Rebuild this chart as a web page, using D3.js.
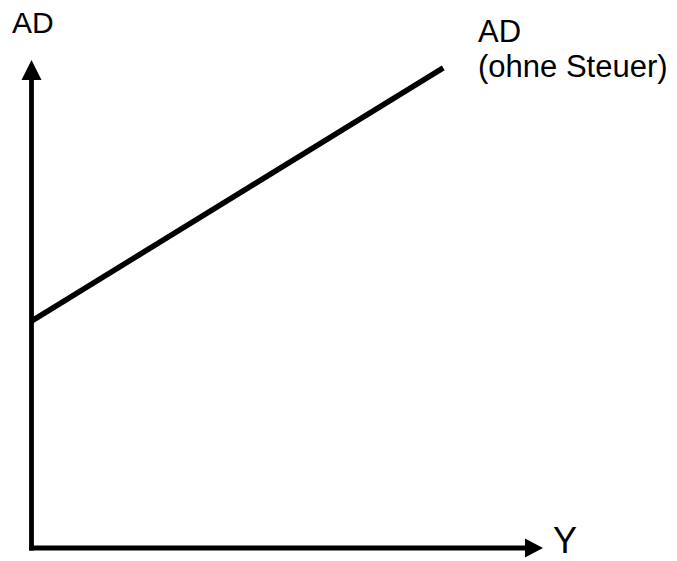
<!DOCTYPE html>
<html><head><meta charset="utf-8">
<script src="https://cdn.jsdelivr.net/npm/d3@7"></script>
<style>body{margin:0;background:#fff}svg{display:block}text{font-family:"Liberation Sans",Arial,sans-serif;fill:#000}</style>
</head><body>
<script>
const adX = [0, 80.5];
const adY = [46.5, 98.4];
const yAxisLabel = "AD";
const xAxisLabel = "Y";
const curveLabel = ["AD", "(ohne Steuer)"];

const W = 677, H = 561;
const svg = d3.select("body").append("svg").attr("width", W).attr("height", H);
const x = d3.scaleLinear().domain([0, 100]).range([31.5, 543]);
const y = d3.scaleLinear().domain([0, 100]).range([548, 60]);

// axes
svg.append("line").attr("x1", x(0)).attr("y1", y(0) + 2.5).attr("x2", x(0)).attr("y2", y(100) + 18)
  .attr("stroke", "#000").attr("stroke-width", 4.8);
svg.append("line").attr("x1", x(0) - 2.4).attr("y1", y(0)).attr("x2", x(100) - 16).attr("y2", y(0))
  .attr("stroke", "#000").attr("stroke-width", 4.8);
// arrowheads
svg.append("path").attr("d", `M${x(0)},${y(100)} L${x(0)-10},${y(100)+20} L${x(0)+10},${y(100)+20} Z`).attr("fill", "#000");
svg.append("path").attr("d", `M${x(100)},${y(0)} L${x(100)-18},${y(0)-9.5} L${x(100)-18},${y(0)+9.5} Z`).attr("fill", "#000");

// AD line
const pts = adX.map((v, i) => [x(v), y(adY[i])]);
svg.append("path").attr("d", d3.line()(pts)).attr("stroke", "#000").attr("stroke-width", 5.5).attr("fill", "none");

// labels
svg.append("text").attr("x", 12).attr("y", 33).attr("font-size", 30).text(yAxisLabel);
svg.append("text").attr("x", 553).attr("y", 553).attr("font-size", 36).text(xAxisLabel);
svg.append("text").attr("x", 478).attr("y", 42).attr("font-size", 31).text(curveLabel[0]);
svg.append("text").attr("x", 478).attr("y", 77).attr("font-size", 31).text(curveLabel[1]);
</script>
</body></html>
